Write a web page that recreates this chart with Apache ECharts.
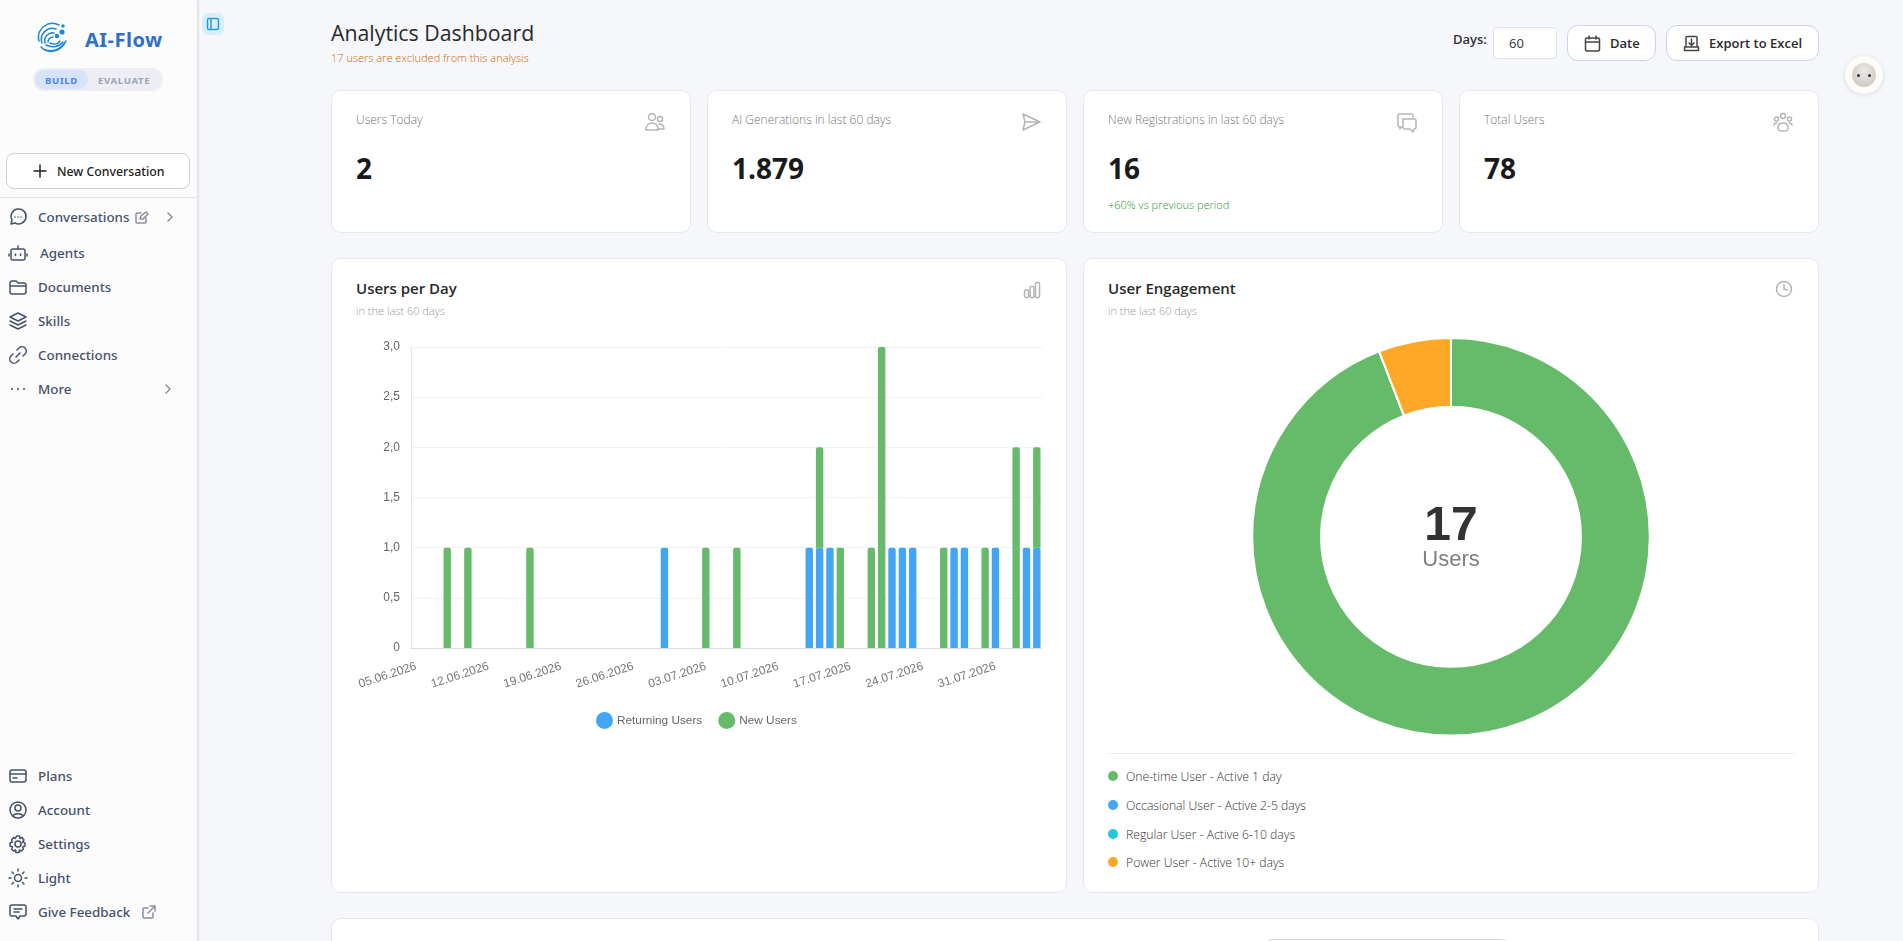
<!DOCTYPE html>
<html>
<head>
<meta charset="utf-8">
<title>Analytics Dashboard</title>
<script src="https://cdn.jsdelivr.net/npm/echarts@6/dist/echarts.min.js"></script>
<style>
    html, body { margin: 0; height: 100%; overflow: hidden; background: #f6f7fb; }
    body { position: relative; width: 1903px; height: 941px; font-family: 'Open Sans', sans-serif; color: #222; }
    .t { position: absolute; white-space: nowrap; transform: translateY(-50%); }
    .box { position: absolute; box-sizing: border-box; }
    .card { position: absolute; box-sizing: border-box; background: #fff; border: 1px solid #e6e8ee; border-radius: 10px; }
    svg { position: absolute; fill: none; stroke-linecap: round; stroke-linejoin: round; stroke-width: 1.5; }
    .nav { font-family: 'Noto Sans', sans-serif; font-size: 13.4px; font-weight: 500; color: #46526a; }
    .nav-icon { stroke: #46526a; }
    .label { font-size: 12px; font-weight: 300; color: #777; }
    .value { font-size: 28px; font-weight: 700; color: #1a1a1a; }
    .head { font-size: 15px; font-weight: 600; color: #2a2a2a; }
    .sub { font-size: 11px; font-weight: 300; color: #999; }
    .btn { background: #fff; border: 1px solid #ccd4e2; border-radius: 11px; }
    .icon { stroke: #b5b5b5; }
    .dot { position: absolute; width: 10px; height: 10px; border-radius: 50%; transform: translate(-50%, -50%); }
    .key { font-size: 12.2px; font-weight: 300; color: #333; }
    #usersChart { position: absolute; left: 332px; top: 320px; width: 734px; height: 430px; }
    #engagementChart { position: absolute; left: 1083px; top: 320px; width: 736px; height: 430px; }
</style>
</head>
<body>

<!-- sidebar -->
<div class="box" style="left:0;top:0;width:198px;height:941px;background:#fcfcfd;border-right:1px solid #dfe1e7;box-shadow:1px 0 2px rgba(0,0,0,.08)"></div>
<svg style="left:36px;top:21px" width="34" height="34" viewBox="0 0 34 34" stroke="#1e88d8" stroke-width="2.2">
    <path d="M3 20a14 14 0 0 1 20-16"/><path d="M6 22a11 11 0 0 1 14-14"/><path d="M9 22a8 8 0 0 1 9-10"/><path d="M12 21a5 5 0 0 1 5-5"/>
    <path d="M5 26c7 7 18 6 25-6"/><path d="M9 29c7 2 15 0 19-6"/><path d="M10 24c6 3 13 2 17-3"/><path d="M14 22c4 2 8 1 10-2"/>
    <circle cx="26" cy="11" r="1.800" fill="#1e88d8"/><circle cx="21" cy="15" r="1.500" fill="#1e88d8"/><circle cx="27" cy="5" r="1" fill="#1e88d8"/>
</svg>
<div class="t" style="left:85px;top:39px;font:700 20px 'Noto Sans',sans-serif;color:#2f6fc4;letter-spacing:.5px">AI-Flow</div>
<div class="box" style="left:33px;top:68px;width:130px;height:23px;border-radius:12px;background:#eceef3"></div>
<div class="box" style="left:35px;top:70px;width:53px;height:19px;border-radius:10px;background:#d6e3fb"></div>
<div class="t" style="left:45px;top:80px;font:700 9.5px 'Noto Sans',sans-serif;color:#4a86f0;letter-spacing:.7px">BUILD</div>
<div class="t" style="left:98px;top:80px;font:700 9.5px 'Noto Sans',sans-serif;color:#9aa5b7;letter-spacing:.7px">EVALUATE</div>
<div class="box" style="left:6px;top:153px;width:184px;height:36px;background:#fff;border:1px solid #cfd0d4;border-radius:8px"></div>
<svg style="left:33px;top:164px" width="14" height="14" viewBox="0 0 14 14" stroke="#222"><path d="M7 1v12M1 7h12"/></svg>
<div class="t" style="left:57px;top:171px;font:500 12.300px 'Noto Sans',sans-serif;color:#222">New Conversation</div>
<div class="box" style="left:0;top:197px;width:198px;height:1px;background:#e4e5e9"></div>
<div id="navList"></div>
<svg style="left:134px;top:210px" width="15" height="15" viewBox="0 0 15 15" stroke="#8a8f9b"><path d="M12 8v4a1 1 0 0 1-1 1H3a1 1 0 0 1-1-1V4a1 1 0 0 1 1-1h4M6 9l1-3 5-4 2 2-5 5z"/></svg>
<svg style="left:165px;top:212px" width="10" height="10" viewBox="0 0 10 10" stroke="#8a8f9b"><path d="M3 1l4 4-4 4"/></svg>
<svg style="left:163px;top:384px" width="10" height="10" viewBox="0 0 10 10" stroke="#8a8f9b"><path d="M3 1l4 4-4 4"/></svg>
<svg style="left:141px;top:905px" width="15" height="15" viewBox="0 0 15 15" stroke="#8a8f9b"><path d="M12 8v4a1 1 0 0 1-1 1H3a1 1 0 0 1-1-1V4a1 1 0 0 1 1-1h4M9 1h5v5M14 1L7 8"/></svg>
<div class="box" style="left:202px;top:13px;width:22px;height:22px;border-radius:6px;background:#d9eefb"></div>
<svg style="left:206px;top:17px" width="14" height="14" viewBox="0 0 14 14" stroke="#2a9ad6"><rect x="1.500" y="1.500" width="11" height="11" rx="1.500"/><path d="M5 1.500v11"/></svg>

<!-- header -->
<div class="t" style="left:331px;top:32px;font-size:21.300px;font-weight:500;color:#2a2a2a">Analytics Dashboard</div>
<div class="t" style="left:331px;top:57px;font-size:11px;font-weight:300;color:#c96a00">17 users are excluded from this analysis</div>
<div class="t" style="left:1453px;top:39px;font-size:13px;font-weight:600;color:#333">Days:</div>
<div class="box" style="left:1493px;top:27px;width:64px;height:32px;background:#fff;border:1px solid #dfe2e9;border-radius:4px"></div>
<div class="t" style="left:1509px;top:43px;font-size:13px;color:#333">60</div>
<div class="box btn" style="left:1567px;top:25px;width:89px;height:36px"></div>
<svg style="left:1584px;top:35px" width="17" height="17" viewBox="0 0 17 17" stroke="#444"><rect x="1.500" y="3" width="14" height="13" rx="1.500"/><path d="M1.500 7h14M5 1v3M12 1v3"/></svg>
<div class="t" style="left:1610px;top:43px;font-size:13px;font-weight:600;color:#2a2a2a">Date</div>
<div class="box btn" style="left:1666px;top:25px;width:153px;height:36px"></div>
<svg style="left:1683px;top:35px" width="17" height="17" viewBox="0 0 17 17" stroke="#444"><path d="M3 12V2.500A1 1 0 0 1 4 1.500h9a1 1 0 0 1 1 1V12M1.500 12h14v3.500h-14zM8.500 4v6M6 8l2.500 2.500L11 8"/></svg>
<div class="t" style="left:1709px;top:43px;font-size:13px;font-weight:600;color:#2a2a2a">Export to Excel</div>
<div class="box" style="left:1845px;top:56px;width:38px;height:38px;border-radius:50%;background:#fdfcf9;box-shadow:0 1px 5px rgba(0,0,0,.12)"></div>
<div class="box" style="left:1852px;top:63px;width:24px;height:24px;border-radius:50%;background:radial-gradient(circle at 50% 35%,#ece8e4,#c9c2bc)"></div>
<div class="box" style="left:1857px;top:74px;width:3px;height:3px;border-radius:50%;background:#333"></div>
<div class="box" style="left:1868px;top:74px;width:3px;height:3px;border-radius:50%;background:#333"></div>

<!-- stat cards -->
<div id="statCards"></div>
<svg class="icon" style="left:644px;top:111px" width="22" height="22" viewBox="0 0 22 22"><circle cx="8" cy="6" r="3.500"/><circle cx="16" cy="8" r="2.500"/><path d="M2 19c0-5 3-7 6-7s6 2 6 7zM15 13c3 0 5 2 5 5h-5"/></svg>
<svg class="icon" style="left:1020px;top:111px" width="22" height="22" viewBox="0 0 22 22"><path d="M3 3l17 8-17 8 2-8zM5 11h15"/></svg>
<svg class="icon" style="left:1396px;top:111px" width="22" height="22" viewBox="0 0 22 22"><path d="M2 5a2 2 0 0 1 2-2h11a2 2 0 0 1 2 2v1M7 8h11a2 2 0 0 1 2 2v6a2 2 0 0 1-2 2l-1 3-3-3H9a2 2 0 0 1-2-2zM7 16H5l-1 2V16H4a2 2 0 0 1-2-2V5"/></svg>
<svg class="icon" style="left:1772px;top:111px" width="22" height="22" viewBox="0 0 22 22"><circle cx="11" cy="5" r="2.500"/><circle cx="4.500" cy="8" r="2"/><circle cx="17.500" cy="8" r="2"/><path d="M6 17c0-3 2-5 5-5s5 2 5 5-2 3-5 3-5 0-5-3zM2 14c0-1 1-2 3-2M20 14c0-1-1-2-3-2"/></svg>

<!-- chart cards -->
<div class="card" style="left:331px;top:258px;width:736px;height:635px"></div>
<div class="t head" style="left:356px;top:288px">Users per Day</div>
<div class="t sub" style="left:356px;top:310px">in the last 60 days</div>
<svg class="icon" style="left:1023px;top:281px" width="18" height="18" viewBox="0 0 18 18"><rect x="1.500" y="9" width="4" height="7.500" rx="1"/><rect x="7" y="5.500" width="4" height="11" rx="1"/><rect x="12.500" y="1.500" width="4" height="15" rx="1"/></svg>

<div class="card" style="left:1083px;top:258px;width:736px;height:635px"></div>
<div class="t head" style="left:1108px;top:288px">User Engagement</div>
<div class="t sub" style="left:1108px;top:310px">in the last 60 days</div>
<svg class="icon" style="left:1775px;top:280px" width="18" height="18" viewBox="0 0 18 18"><circle cx="9" cy="9" r="7.500"/><path d="M9 4.500V9l3 1"/></svg>
<div class="box" style="left:1107px;top:753px;width:687px;height:1px;background:#eceef1"></div>
<div id="engagementKey"></div>

<div id="usersChart"></div>
<div id="engagementChart"></div>

<!-- next card, cut off by the window -->
<div class="card" style="left:331px;top:918px;width:1488px;height:80px"></div>
<div class="box" style="left:1267px;top:939px;width:239px;height:40px;border:1px solid #d5d7dc;border-radius:4px;background:#fff"></div>

<script>
    const days = [
        '05.06.2026', '06.06.2026', '07.06.2026', '08.06.2026', '09.06.2026', '10.06.2026', '11.06.2026',
        '12.06.2026', '13.06.2026', '14.06.2026', '15.06.2026', '16.06.2026', '17.06.2026', '18.06.2026',
        '19.06.2026', '20.06.2026', '21.06.2026', '22.06.2026', '23.06.2026', '24.06.2026', '25.06.2026',
        '26.06.2026', '27.06.2026', '28.06.2026', '29.06.2026', '30.06.2026', '01.07.2026', '02.07.2026',
        '03.07.2026', '04.07.2026', '05.07.2026', '06.07.2026', '07.07.2026', '08.07.2026', '09.07.2026',
        '10.07.2026', '11.07.2026', '12.07.2026', '13.07.2026', '14.07.2026', '15.07.2026', '16.07.2026',
        '17.07.2026', '18.07.2026', '19.07.2026', '20.07.2026', '21.07.2026', '22.07.2026', '23.07.2026',
        '24.07.2026', '25.07.2026', '26.07.2026', '27.07.2026', '28.07.2026', '29.07.2026', '30.07.2026',
        '31.07.2026', '01.08.2026', '02.08.2026', '03.08.2026', '04.08.2026'
    ];
    const returningUsers = [
        0, 0, 0, 0, 0, 0, 0, 0, 0, 0, 0, 0, 0, 0, 0, 0, 0, 0, 0, 0,
        0, 0, 0, 0, 1, 0, 0, 0, 0, 0, 0, 0, 0, 0, 0, 0, 0, 0, 1, 1,
        1, 0, 0, 0, 0, 0, 1, 1, 1, 0, 0, 0, 1, 1, 0, 0, 1, 0, 0, 1, 1
    ];
    const newUsers = [
        0, 0, 0, 1, 0, 1, 0, 0, 0, 0, 0, 1, 0, 0, 0, 0, 0, 0, 0, 0,
        0, 0, 0, 0, 0, 0, 0, 0, 1, 0, 0, 1, 0, 0, 0, 0, 0, 0, 0, 1,
        0, 1, 0, 0, 1, 3, 0, 0, 0, 0, 0, 1, 0, 0, 0, 1, 0, 0, 2, 0, 1
    ];
    const engagementNames = [
        'One-time User - Active 1 day',
        'Occasional User - Active 2-5 days',
        'Regular User - Active 6-10 days',
        'Power User - Active 10+ days'
    ];
    const engagementValues = [16, 0, 0, 1];
    const engagementColors = ['#66bb6a', '#42a5f5', '#26c6da', '#ffa726'];
    const totalUsers = '17';

    const statLabels = ['Users Today', 'AI Generations in last 60 days', 'New Registrations in last 60 days', 'Total Users'];
    const statValues = ['2', '1.879', '16', '78'];
    const navTop = [['Conversations', 217], ['Agents', 252.5], ['Documents', 286.5], ['Skills', 320.5], ['Connections', 354.5], ['More', 388.5]];
    const navBottom = [['Plans', 775.5], ['Account', 809.5], ['Settings', 843.5], ['Light', 877.5], ['Give Feedback', 911.5]];
    const navIcons = {
        Conversations: '<path d="M3 17l1-4a7.500 7.500 0 1 1 3 3z"/><path d="M7 10h.01M10 10h.01M13 10h.01"/>',
        Agents: '<rect x="3" y="6" width="14" height="11" rx="2"/><path d="M10 6V3M1 11v2M19 11v2M7.500 11v1.500M12.500 11v1.500"/>',
        Documents: '<path d="M2 6a2 2 0 0 1 2-2h4l2 2h6a2 2 0 0 1 2 2v7a2 2 0 0 1-2 2H4a2 2 0 0 1-2-2zM2 9h16"/>',
        Skills: '<path d="M10 2l8 4-8 4-8-4zM2 10l8 4 8-4M2 14l8 4 8-4"/>',
        Connections: '<path d="M8 12l4-4M9 5l2-2a4 4 0 0 1 6 6l-2 2M11 15l-2 2a4 4 0 0 1-6-6l2-2"/>',
        More: '<path d="M4 10h.01M10 10h.01M16 10h.01" stroke-width="2"/>',
        Plans: '<rect x="2" y="4" width="16" height="12" rx="2"/><path d="M2 8h16M5 12h4"/>',
        Account: '<circle cx="10" cy="10" r="8"/><circle cx="10" cy="8" r="3"/><path d="M5 16c1-3 9-3 10 0"/>',
        Settings: '<circle cx="10" cy="10" r="3"/><path d="M8.500 2h3l.5 2.500 2-1 2 2.500-1.500 2 2.500 1v3l-2.500 1 1 2-2 2-2-1-.5 2.500h-3l-.5-2.500-2 1-2-2 1-2-2.500-1v-3l2.500-1-1-2 2-2.500 2 1z"/>',
        Light: '<circle cx="10" cy="10" r="3.500"/><path d="M10 1v2M10 17v2M1 10h2M17 10h2M4 4l1.500 1.500M14.500 14.500L16 16M4 16l1.500-1.500M14.500 5.500L16 4"/>',
        'Give Feedback': '<path d="M2 5a2 2 0 0 1 2-2h12a2 2 0 0 1 2 2v7a2 2 0 0 1-2 2h-4l-2 3-2-3H4a2 2 0 0 1-2-2zM6 7h8M6 10h5"/>'
    };

    // the page around the charts
    let navHtml = '';
    navTop.concat(navBottom).forEach(function (item) {
        const textLeft = item[0] === 'Agents' ? 40 : 38;
        navHtml += '<svg class="nav-icon" style="left:8px;top:' + (item[1] - 10) + 'px" width="20" height="20" viewBox="0 0 20 20">' + navIcons[item[0]] + '</svg>'
            + '<div class="t nav" style="left:' + textLeft + 'px;top:' + item[1] + 'px">' + item[0] + '</div>';
    });
    document.getElementById('navList').innerHTML = navHtml;

    let statHtml = '';
    statLabels.forEach(function (label, i) {
        const left = [331, 707, 1083, 1459][i];
        statHtml += '<div class="card" style="left:' + left + 'px;top:90px;width:360px;height:143px"></div>'
            + '<div class="t label" style="left:' + (left + 25) + 'px;top:119px">' + label + '</div>'
            + '<div class="t value" style="left:' + (left + 25) + 'px;top:168px">' + statValues[i] + '</div>';
    });
    statHtml += '<div class="t" style="left:1108px;top:204px;font-size:11px;font-weight:300;color:#1f9a32">+60% vs previous period</div>';
    document.getElementById('statCards').innerHTML = statHtml;

    let keyHtml = '';
    engagementNames.forEach(function (name, i) {
        const y = [776, 805, 834, 862][i];
        keyHtml += '<div class="dot" style="left:1112.500px;top:' + y + 'px;background:' + engagementColors[i] + '"></div>'
            + '<div class="t key" style="left:1126px;top:' + y + 'px">' + name + '</div>';
    });
    document.getElementById('engagementKey').innerHTML = keyHtml;

    // Users per Day
    const usersChart = echarts.init(document.getElementById('usersChart'));
    usersChart.setOption({
        animation: false,
        textStyle: { fontFamily: '"Liberation Sans", Arial, sans-serif' },
        grid: { left: 79, top: 27, width: 631, height: 301 },
        legend: {
            left: 259,
            top: 387,
            icon: 'circle',
            itemWidth: 17,
            itemHeight: 17,
            itemGap: 16,
            selectedMode: false,
            data: ['Returning Users', 'New Users'],
            textStyle: { color: '#666', fontSize: 11.8, padding: [0, 0, 0, -1] }
        },
        xAxis: {
            type: 'category',
            data: days,
            axisLine: { lineStyle: { color: '#ddd', width: 1 } },
            axisTick: { show: false },
            axisLabel: { interval: 6, rotate: 18, color: '#777', fontSize: 12, margin: 18, hideOverlap: false }
        },
        yAxis: {
            type: 'value',
            min: 0,
            max: 3,
            interval: 0.5,
            axisLine: { show: true, lineStyle: { color: '#e5e5e5' } },
            axisTick: { show: false },
            splitLine: { lineStyle: { color: '#f1f1f1' } },
            axisLabel: {
                color: '#666',
                fontSize: 12,
                margin: 11,
                padding: [2, 0, 0, 0],
                formatter: function (value) {
                    return value === 0 ? '0' : value.toFixed(1).replace('.', ',');
                }
            }
        },
        series: [
            {
                name: 'Returning Users',
                type: 'bar',
                stack: 'users',
                data: returningUsers,
                barWidth: 7.4,
                itemStyle: { color: '#42a5f5', borderRadius: [2, 2, 0, 0] }
            },
            {
                name: 'New Users',
                type: 'bar',
                stack: 'users',
                data: newUsers,
                barWidth: 7.4,
                itemStyle: { color: '#66bb6a', borderRadius: [2, 2, 0, 0] }
            }
        ]
    });

    // User Engagement
    const engagementChart = echarts.init(document.getElementById('engagementChart'));
    engagementChart.setOption({
        animation: false,
        textStyle: { fontFamily: '"Liberation Sans", Arial, sans-serif' },
        color: engagementColors,
        graphic: [
            {
                type: 'text',
                x: 368,
                y: 207,
                style: { text: totalUsers, fill: '#333', font: 'bold 48px "Liberation Sans", Arial, sans-serif', align: 'center', verticalAlign: 'middle' }
            },
            {
                type: 'text',
                x: 368,
                y: 240,
                style: { text: 'Users', fill: '#808080', font: '22px "Liberation Sans", Arial, sans-serif', align: 'center', verticalAlign: 'middle' }
            }
        ],
        series: [
            {
                type: 'pie',
                center: [368, 216.8],
                radius: [130, 198.8],
                startAngle: 90,
                label: { show: false },
                labelLine: { show: false },
                itemStyle: { borderColor: '#fff', borderWidth: 2 },
                data: engagementNames.map(function (name, i) {
                    return { name: name, value: engagementValues[i] };
                })
            }
        ]
    });

    window.addEventListener('resize', function () {
        usersChart.resize();
        engagementChart.resize();
    });
</script>
</body>
</html>
